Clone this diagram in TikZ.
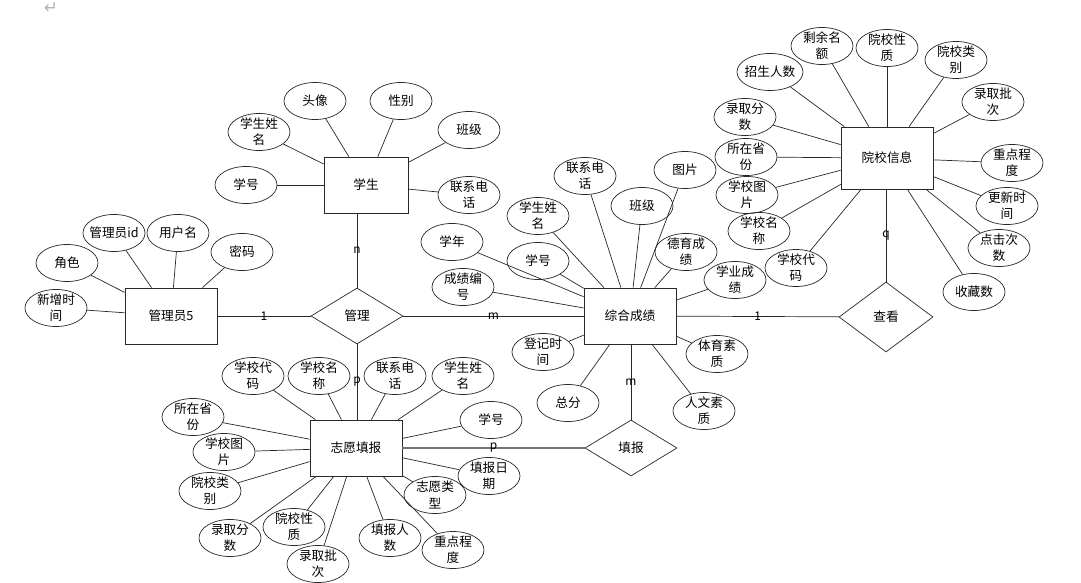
\documentclass[tikz,border=0pt]{standalone}
\usepackage{fontspec}
\setmainfont{Noto Sans CJK SC}
\newfontfamily\symfont{DejaVu Sans}
\usetikzlibrary{shapes.geometric}
\definecolor{lineblack}{RGB}{40, 40, 40}

\begin{document}
\begin{tikzpicture}[x=0.025cm, y=-0.025cm, font=\fontsize{9}{11.5}\selectfont,
    line width=0.5pt, draw=lineblack,
    entity/.style={rectangle, draw, minimum width=2.3cm, minimum height=1.4cm},
    attr/.style={ellipse, draw, align=center, inner sep=-2pt, minimum width=1.55cm, minimum height=0.925cm},
    rel/.style={diamond, draw, inner sep=0pt, minimum width=2.3cm, minimum height=1.4cm},
    card/.style={font=\fontsize{8.5}{10}\selectfont, inner sep=1pt}]
  \useasboundingbox (0,0) rectangle (1081,583);
  \node[text=gray!60, font=\symfont\fontsize{12}{12}\selectfont, inner sep=0pt] (ret) at (51,8) {↵};

  % Entities and relations
  \node[entity, minimum width=2.1cm] (stu) at (366,185) {学生};
  \node[entity] (admin) at (171,316) {管理员5};
  \node[entity] (score) at (630,316) {综合成绩};
  \node[entity, minimum height=1.55cm] (school) at (887,158) {院校信息};
  \node[entity] (wish) at (356,448) {志愿填报};
  \node[rel] (manage) at (357,316) {管理};
  \node[rel, minimum width=2.35cm, minimum height=1.75cm] (view) at (886,317) {查看};
  \node[rel] (fill) at (631,448) {填报};

  % Student
  \node[attr] (sNo) at (246,185) {学号};
  \node[attr] (sName) at (259,132) {学生姓\\名};
  \node[attr] (sHead) at (315,101) {头像};
  \node[attr] (sSex) at (401,101) {性别};
  \node[attr] (sClass) at (469,130) {班级};
  \node[attr] (sTel) at (469,195) {联系电\\话};
  \foreach \a in {sNo, sName, sHead, sSex, sClass, sTel}
    \draw (stu) -- (\a);

  % Admin
  \node[attr] (aTime) at (56,308) {新增时\\间};
  \node[attr] (aRole) at (67,263) {角色};
  \node[attr] (aId) at (114,233) {管理员id};
  \node[attr] (aUser) at (178,233) {用户名};
  \node[attr] (aPwd) at (242,252) {密码};
  \foreach \a in {aTime, aRole, aId, aUser, aPwd}
    \draw (admin) -- (\a);

  % Score
  \node[attr] (gYear) at (452,242) {学年};
  \node[attr] (gId) at (463,287) {成绩编\\号};
  \node[attr] (gNo) at (538,261) {学号};
  \node[attr] (gName) at (538,216) {学生姓\\名};
  \node[attr] (gTel) at (585,176) {联系电\\话};
  \node[attr] (gClass) at (642,206) {班级};
  \node[attr] (gPic) at (685,170) {图片};
  \node[attr] (gMoral) at (686,252) {德育成\\绩};
  \node[attr] (gStudy) at (735,280) {学业成\\绩};
  \node[attr] (gSport) at (717,354) {体育素\\质};
  \node[attr] (gHuman) at (704,411) {人文素\\质};
  \node[attr] (gTotal) at (568,403) {总分};
  \node[attr] (gReg) at (543,352) {登记时\\间};
  \foreach \a in {gYear, gId, gNo, gName, gTel, gClass, gPic, gMoral, gStudy, gSport, gHuman, gTotal, gReg}
    \draw (score) -- (\a);

  % School
  \node[attr, minimum width=1.65cm] (uPlan) at (770,72) {招生人数};
  \node[attr] (uLeft) at (822,46) {剩余名\\额};
  \node[attr] (uNature) at (887,48) {院校性\\质};
  \node[attr] (uType) at (956,60) {院校类\\别};
  \node[attr] (uBatch) at (993,102) {录取批\\次};
  \node[attr] (uKey) at (1012,163) {重点程\\度};
  \node[attr] (uUpd) at (1007,206) {更新时\\间};
  \node[attr] (uClick) at (999,248) {点击次\\数};
  \node[attr] (uFav) at (974,292) {收藏数};
  \node[attr] (uCode) at (796,268) {学校代\\码};
  \node[attr] (uName) at (759,231) {学校名\\称};
  \node[attr] (uPic) at (747,195) {学校图\\片};
  \node[attr] (uProv) at (746,157) {所在省\\份};
  \node[attr] (uScore) at (745,117) {录取分\\数};
  \foreach \a in {uPlan, uLeft, uNature, uType, uBatch, uKey, uUpd, uClick, uFav, uCode, uName, uPic, uProv, uScore}
    \draw (school) -- (\a);

  % Wish
  \node[attr] (wCode) at (253,376) {学校代\\码};
  \node[attr] (wName) at (319,376) {学校名\\称};
  \node[attr] (wTel) at (395,376) {联系电\\话};
  \node[attr] (wStu) at (463,376) {学生姓\\名};
  \node[attr] (wNo) at (491,420) {学号};
  \node[attr] (wDate) at (489,476) {填报日\\期};
  \node[attr] (wType) at (435,495) {志愿类\\型};
  \node[attr] (wKey) at (453,550) {重点程\\度};
  \node[attr] (wNum) at (390,538) {填报人\\数};
  \node[attr] (wBatch) at (318,564) {录取批\\次};
  \node[attr] (wNature) at (294,527) {院校性\\质};
  \node[attr] (wScore) at (230,538) {录取分\\数};
  \node[attr] (wCat) at (210,491) {院校类\\别};
  \node[attr] (wPic) at (224,452) {学校图\\片};
  \node[attr] (wProv) at (193,417) {所在省\\份};
  \foreach \a in {wCode, wName, wTel, wStu, wNo, wDate, wType, wKey, wNum, wBatch, wNature, wScore, wCat, wPic, wProv}
    \draw (wish) -- (\a);

  % Relationship lines
  \draw (admin) -- node[card] (c1) {1} (manage);
  \draw (manage) -- node[card] (c2) {m} (score);
  \draw (manage.north |- stu.south) -- node[card] (c3) {n} (manage.north);
  \draw (manage.south) -- node[card] (c4) {p} (manage.south |- wish.north);
  \draw (score) -- node[card] (c5) {1} (view);
  \draw (view.north |- school.south) -- node[card] (c6) {q} (view.north);
  \draw (fill.north |- score.south) -- node[card] (c7) {m} (fill.north);
  \draw[draw=black!55, line width=0.9pt] (wish) -- node[card, text=black] (c8) {p} (fill);
\end{tikzpicture}
\end{document}
